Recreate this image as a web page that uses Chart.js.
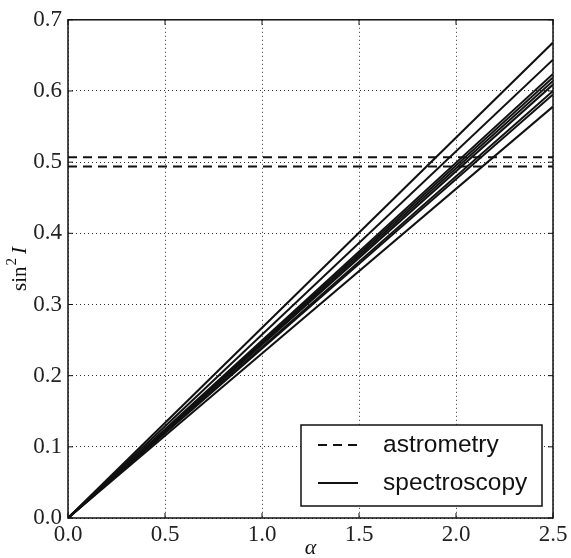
<!DOCTYPE html>
<html>
<head>
<meta charset="utf-8">
<script src="https://cdn.jsdelivr.net/npm/chart.js@4.4.1/dist/chart.umd.min.js"></script>
<style>
  html, body { margin: 0; padding: 0; background: #fff; }
  #wrap { width: 571px; height: 558px; }
</style>
</head>
<body>
<div id="wrap"><canvas id="sinChart" width="571" height="558"></canvas></div>
<script>
// end values of sin^2 I at alpha = 2.5 for each spectroscopy line (all start at 0,0)
const alphaRange = [0, 2.5];
const spectroEnds = [0.668, 0.644, 0.624, 0.619, 0.614, 0.609, 0.600, 0.595, 0.578];
// astrometry bounds (horizontal dashed lines)
const astroLevels = [0.507, 0.494];
const xTicks = [0.0, 0.5, 1.0, 1.5, 2.0, 2.5];
const yTicks = [0.0, 0.1, 0.2, 0.3, 0.4, 0.5, 0.6, 0.7];

const serif = "'Liberation Serif', 'DejaVu Serif', serif";
const sans = "'Liberation Sans', Arial, sans-serif";

document.addEventListener('DOMContentLoaded', () => {
    const ctx = document.getElementById('sinChart').getContext('2d');

    const datasets = [];
    astroLevels.forEach(v => {
        datasets.push({
            label: 'astrometry',
            data: alphaRange.map(a => ({ x: a, y: v })),
            borderColor: '#111',
            borderWidth: 2,
            borderDash: [9, 6],
            pointRadius: 0
        });
    });
    spectroEnds.forEach(v => {
        datasets.push({
            label: 'spectroscopy',
            data: [{ x: alphaRange[0], y: 0 }, { x: alphaRange[1], y: v }],
            borderColor: '#111',
            borderWidth: 2,
            pointRadius: 0
        });
    });

    // frame, matplotlib-ish inner ticks, axis titles and legend box
    const decor = {
        id: 'decor',
        afterDraw(chart) {
            const c = chart.ctx;
            const a = chart.chartArea;
            const xs = chart.scales.x, ys = chart.scales.y;
            c.save();
            c.strokeStyle = '#111';
            c.lineWidth = 1.5;
            c.strokeRect(a.left, a.top, a.right - a.left, a.bottom - a.top);
            // inner tick marks
            c.lineWidth = 1;
            xTicks.forEach(t => {
                const px = xs.getPixelForValue(t);
                c.beginPath();
                c.moveTo(px, a.bottom); c.lineTo(px, a.bottom - 5);
                c.moveTo(px, a.top); c.lineTo(px, a.top + 5);
                c.stroke();
            });
            yTicks.forEach(t => {
                const py = ys.getPixelForValue(t);
                c.beginPath();
                c.moveTo(a.left, py); c.lineTo(a.left + 5, py);
                c.moveTo(a.right, py); c.lineTo(a.right - 5, py);
                c.stroke();
            });

            // axis titles
            c.fillStyle = '#111';
            c.font = 'italic 22px ' + serif;
            c.textAlign = 'center';
            c.textBaseline = 'middle';
            c.fillText('α', (a.left + a.right) / 2, 548);

            c.save();
            c.translate(20, (a.top + a.bottom) / 2);
            c.rotate(-Math.PI / 2);
            c.textAlign = 'left';
            c.font = '21px ' + serif;
            const s1 = 'sin';
            const w1 = c.measureText(s1).width;
            c.font = '15px ' + serif;
            const w2 = c.measureText('2').width;
            c.font = 'italic 21px ' + serif;
            const w3 = c.measureText('I').width;
            const total = w1 + w2 + 5 + w3;
            let x0 = -total / 2;
            c.font = '21px ' + serif;
            c.fillText(s1, x0, 0);
            c.font = '15px ' + serif;
            c.fillText('2', x0 + w1 + 1, -8);
            c.font = 'italic 21px ' + serif;
            c.fillText('I', x0 + w1 + w2 + 5, 0);
            c.restore();

            // legend
            const lx = 301, ly = 425, lw = 241, lh = 81;
            c.fillStyle = '#fff';
            c.fillRect(lx, ly, lw, lh);
            c.strokeStyle = '#111';
            c.lineWidth = 1.5;
            c.strokeRect(lx, ly, lw, lh);
            c.lineWidth = 2;
            c.setLineDash([9, 6]);
            c.beginPath(); c.moveTo(318, 445); c.lineTo(358, 445); c.stroke();
            c.setLineDash([]);
            c.beginPath(); c.moveTo(318, 483); c.lineTo(358, 483); c.stroke();
            c.fillStyle = '#111';
            c.font = '24.5px ' + sans;
            c.textAlign = 'left';
            c.textBaseline = 'middle';
            c.fillText('astrometry', 383, 445);
            c.fillText('spectroscopy', 383, 483);
            c.restore();
        }
    };

    const gridOpts = {
        color: '#333',
        lineWidth: 1,
        drawTicks: false
    };

    const config = {
        type: 'line',
        data: { datasets: datasets },
        options: {
            responsive: false,
            animation: false,
            layout: { padding: { left: 0, right: 18, top: 16, bottom: 0 } },
            plugins: {
                legend: { display: false },
                tooltip: { enabled: false }
            },
            scales: {
                x: {
                    type: 'linear',
                    min: 0,
                    max: 2.5,
                    afterBuildTicks: s => { s.ticks = xTicks.map(v => ({ value: v })); },
                    afterFit: s => { s.height = 40; },
                    grid: gridOpts,
                    border: { display: false, dash: [1, 3] },
                    ticks: {
                        color: '#222',
                        padding: 3,
                        maxRotation: 0,
                        font: { family: serif, size: 23 },
                        callback: v => v.toFixed(1)
                    }
                },
                y: {
                    type: 'linear',
                    min: 0,
                    max: 0.7,
                    afterBuildTicks: s => { s.ticks = yTicks.map(v => ({ value: v })); },
                    afterFit: s => { s.width = 68; },
                    grid: gridOpts,
                    border: { display: false, dash: [1, 3] },
                    ticks: {
                        color: '#222',
                        padding: 6,
                        font: { family: serif, size: 23 },
                        callback: v => v.toFixed(1)
                    }
                }
            }
        },
        plugins: [decor]
    };

    new Chart(ctx, config);
});
</script>
</body>
</html>
